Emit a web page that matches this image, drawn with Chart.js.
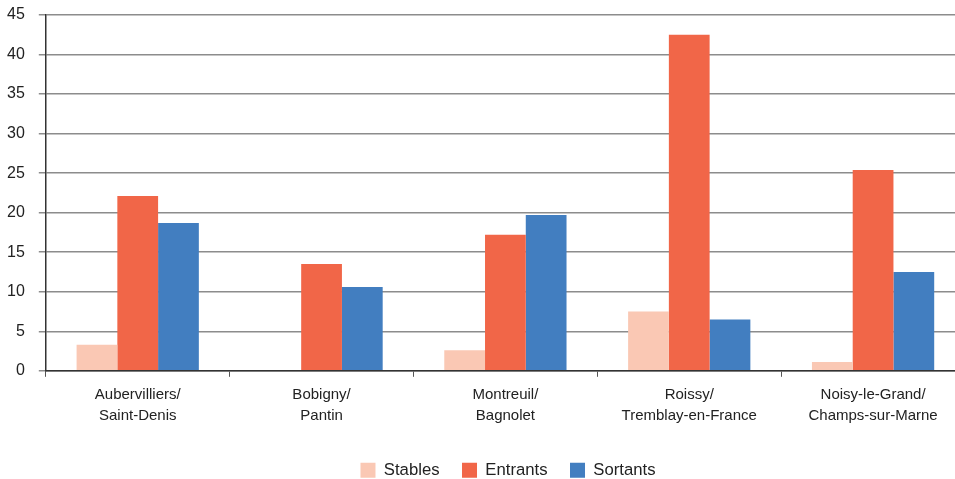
<!DOCTYPE html>
<html>
<head>
<meta charset="utf-8">
<script src="https://cdn.jsdelivr.net/npm/chart.js@4/dist/chart.umd.min.js"></script>
<style>
  html, body { margin: 0; padding: 0; background: #fff; overflow: hidden; }
  #wrap { position: relative; width: 1020px; height: 479px; }
</style>
</head>
<body>
<div id="wrap"><canvas id="c"></canvas></div>
<script>
// ── Données ──────────────────────────────────────────────
var communes = [
  ['Aubervilliers/', 'Saint-Denis'],
  ['Bobigny/', 'Pantin'],
  ['Montreuil/', 'Bagnolet'],
  ['Roissy/', 'Tremblay-en-France'],
  ['Noisy-le-Grand/', 'Champs-sur-Marne']
];
var stables  = [3.3, 0, 2.6, 7.5, 1.1];
var entrants = [22.1, 13.5, 17.2, 42.5, 25.4];
var sortants = [18.7, 10.6, 19.7, 6.5, 12.5];
var yMax = 45, yStep = 5;

var SANS = '"Liberation Sans", Arial, sans-serif';

// legende decalee comme dans l'original
var legendShift = {
  id: 'legendShift',
  afterLayout: function(chart) {
    var lg = chart.legend;
    if (!lg) return;
    lg.left += 29; lg.right += 29;
    lg.top += 4.5; lg.bottom += 4.5;
  }
};

new Chart(document.getElementById('c'), {
  type: 'bar',
  data: {
    labels: communes,
    datasets: [
      { label: 'Stables',  data: stables,  backgroundColor: '#FAC8B4' },
      { label: 'Entrants', data: entrants, backgroundColor: '#F16648' },
      { label: 'Sortants', data: sortants, backgroundColor: '#427EC0' }
    ]
  },
  options: {
    responsive: true,
    maintainAspectRatio: false,
    animation: false,
    layout: { padding: { top: 15, right: 55, left: -7, bottom: -5 } },
    datasets: { bar: { barPercentage: 1, categoryPercentage: 0.665 } },
    plugins: {
      tooltip: { enabled: false },
      legend: {
        position: 'bottom',
        labels: {
          color: '#222',
          font: { size: 16.7, family: SANS },
          boxWidth: 15, boxHeight: 15,
          padding: 22.5
        }
      }
    },
    scales: {
      x: {
        grid: { display: true, drawOnChartArea: false, drawTicks: true, tickLength: 6, color: '#555', offset: true },
        border: { color: '#333', width: 1.5 },
        ticks: { color: '#222', padding: 8, font: { size: 15, family: SANS, lineHeight: 1.4 }, maxRotation: 0, autoSkip: false }
      },
      y: {
        min: 0, max: yMax,
        grid: { color: '#8c8c8c', lineWidth: 1.5, tickLength: 7 },
        border: { color: '#333', width: 1.5 },
        ticks: { stepSize: yStep, color: '#222', padding: 14, font: { size: 16, family: SANS } },
        // le padding des ticks ne doit pas pousser la zone du graphique vers le bas
        afterFit: function(s) { s.paddingTop = 0; s.paddingBottom = 0; }
      }
    }
  },
  plugins: [legendShift]
});
</script>
</body>
</html>
